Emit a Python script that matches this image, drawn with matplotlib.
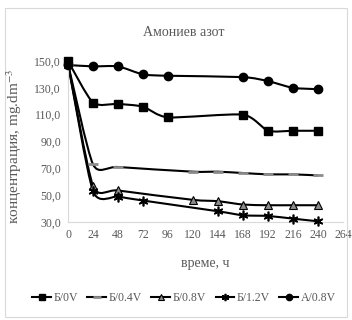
import numpy as np
from matplotlib import pyplot as plt
from matplotlib import patches as pat
from matplotlib.path import Path

plt.rcParams['font.family'] = ['Liberation Serif', 'DejaVu Serif']
plt.rcParams['mathtext.fontset'] = 'stix'

# data
hours = [0, 24, 48, 72, 96, 120, 144, 168, 192, 216, 240]
b_0v = [150, 119, 118, 116, 108, None, None, 110, 98, 98, 98]
b_04v = [148, 73, 71, None, None, 67.5, 67.5, 66.5, 65.5, 65.5, 64.7]
b_08v = [148, 57, 53.5, None, None, 46.5, 45.5, 43, 42.5, 42.5, 42.5]
b_12v = [148, 53, 49, 46, None, None, 38, 35, 34.5, 32.5, 30.5]
a_08v = [147, 146, 146, 140, 139, None, None, 138, 135, 130, 129]

series = [
    ("Б/0V", b_0v, dict(marker='s', mfc='black', mec='black', ms=6)),
    ("Б/0.4V", b_04v, dict(marker='_', mfc='#8c8c8c', mec='#8c8c8c', ms=7, mew=2)),
    ("Б/0.8V", b_08v, dict(marker='^', mfc='#8c8c8c', mec='black', ms=6, mew=0.8)),
    ("Б/1.2V", b_12v, dict(marker=(6, 2, 0), mfc='black', mec='black', ms=7, mew=1.2)),
    ("A/0.8V", a_08v, dict(marker='o', mfc='black', mec='black', ms=6)),
]

grey = '#595959'


def smooth_path(xs, ys, k=9.0):
    # smoothed line like Excel: Catmull-Rom style segments as cubic Bezier curves
    pts = np.column_stack([xs, ys]).astype(float)
    verts = [pts[0]]
    codes = [Path.MOVETO]
    n = len(pts)
    for i in range(n - 1):
        p0 = pts[i - 1] if i > 0 else pts[i]
        p1 = pts[i]
        p2 = pts[i + 1]
        p3 = pts[i + 2] if i + 2 < n else pts[i + 1]
        c1 = p1 + (p2 - p0) / k
        c2 = p2 - (p3 - p1) / k
        verts += [c1, c2, p2]
        codes += [Path.CURVE4] * 3
    return Path(verts, codes)


def main():
    fig = plt.figure(figsize=(3.52, 3.2), dpi=100)
    ax = fig.add_axes([68 / 352, 1 - 222 / 320, (343 - 68) / 352, (222 - 61) / 320])

    for name, vals, st in series:
        xs = [h for h, v in zip(hours, vals) if v is not None]
        ys = [v for v in vals if v is not None]
        ax.add_patch(pat.PathPatch(smooth_path(xs, ys), fill=False, lw=1.5,
                                   edgecolor='black', clip_on=False))
        ax.plot(xs, ys, ls='none', clip_on=False, zorder=3, **st)
        # legend proxy
        ax.plot([], [], color='black', lw=1.5, label=name, **st)

    ax.set_xlim(0, 264)
    ax.set_ylim(30, 150)
    ax.set_xticks(range(0, 265, 24))
    yt = list(range(30, 151, 20))
    ax.set_yticks(yt)
    ax.set_yticklabels([f"{v:.1f}".replace('.', ',') for v in yt])
    ax.tick_params(length=0, labelsize=8.5, colors=grey, pad=5)
    for s in ['top', 'right']:
        ax.spines[s].set_visible(False)
    for s in ['left', 'bottom']:
        ax.spines[s].set_color('#d9d9d9')
    ax.patch.set_alpha(0)

    fig.text(184 / 352, 1 - 33 / 320, "Амониев азот", ha='center', va='center',
             fontsize=10, color=grey)
    fig.text(205 / 352, 1 - 264 / 320, "време, ч", ha='center', va='center',
             fontsize=10, color=grey)
    fig.text(14 / 352, 1 - 146 / 320, "концентрация, mg.dm$^{-3}$", ha='center',
             va='center', rotation=90, fontsize=11, color=grey)

    fig.legend(loc='center', bbox_to_anchor=(184 / 352, 1 - 298 / 320), ncol=5,
               frameon=False, fontsize=8.5, handlelength=1.6, handletextpad=0.2,
               columnspacing=0.8, labelcolor=grey, markerscale=0.75)

    fig.patches.append(pat.Rectangle((5 / 352, 3 / 320), 342 / 352, 309 / 320,
                                     transform=fig.transFigure, fill=False,
                                     edgecolor='#d9d9d9', lw=0.8))

    fig.savefig('out.png', dpi=100)


if __name__ == '__main__':
    main()
